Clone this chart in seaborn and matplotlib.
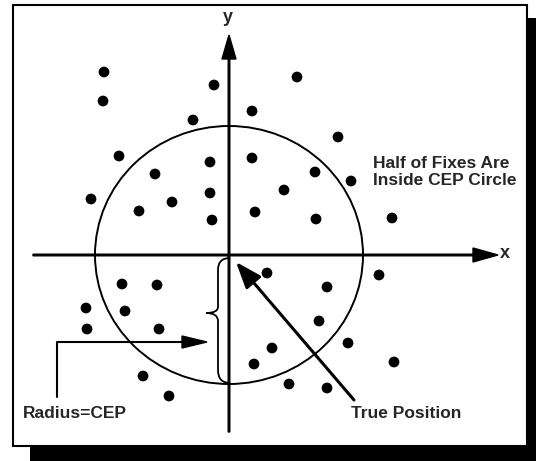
"""
CEP (circular error probable) diagram
Scattered position fixes around the true position
"""

import numpy as np
import pandas as pd
import matplotlib
matplotlib.use('Agg')
import matplotlib.pyplot as plt
import seaborn as sns
from matplotlib.patches import Ellipse, Rectangle, PathPatch
from matplotlib.path import Path

sns.set_style("white")
plt.rcParams['font.family'] = ['Liberation Sans', 'DejaVu Sans']

# ============================================================================
# DATA: fix positions relative to the true position (origin)
# ============================================================================

fix_x = [-125, -126, -15, 23, -36, -110, -19, 23, -74, -138,
         -19, -57, -90, -17, 26, 68, 109, 86, 122, 55,
         87, 163, -107, -72, -143, -104, -142, -70, -86, -60,
         25, 38, 150, 98, 90, 43, 119, 165, 60, 98]
fix_y = [183, 154, 170, 144, 135, 99, 93, 97, 81, 56,
         62, 53, 44, 35, 43, 178, 118, 83, 74, 65,
         36, 37, -29, -30, -53, -56, -74, -74, -121, -141,
         -109, -18, -20, -32, -66, -93, -88, -107, -129, -133]

cep_width = 268
cep_height = 258

df = pd.DataFrame({'x': fix_x, 'y': fix_y})

# ============================================================================
# FIGURE (1 data unit = 1 pixel)
# ============================================================================

fig = plt.figure(figsize=(5.36, 4.61), dpi=100)
ax = fig.add_axes([0, 0, 1, 1])
ax.set_xlim(-229, 307)
ax.set_ylim(-206, 255)
ax.axis('off')

# frame with drop shadow
ax.add_patch(Rectangle((-199, -206), 506, 443, facecolor='black', edgecolor='none', zorder=0))
ax.add_patch(Rectangle((-216, -191), 514, 441, facecolor='white', edgecolor='black',
                       linewidth=1.5, zorder=1))

# axes with arrows
ax.arrow(-196, 0, 465, 0, width=1.6, head_width=14, head_length=25,
         length_includes_head=True, color='black', zorder=2)
ax.arrow(0, -177, 0, 397, width=1.6, head_width=14, head_length=24,
         length_includes_head=True, color='black', zorder=2)
ax.text(276, 1, 'x', fontsize=13, fontweight='bold', ha='center', va='center')
ax.text(-1, 237, 'y', fontsize=13, fontweight='bold', ha='center', va='center')

# CEP circle
ax.add_patch(Ellipse((0, 0), cep_width, cep_height, fill=False, edgecolor='black',
                     linewidth=1.4, zorder=2))

# fixes
sns.scatterplot(data=df, x='x', y='y', color='black', s=60, edgecolor='none',
                ax=ax, zorder=3, legend=False)
ax.set_xlabel('')
ax.set_ylabel('')

# brace marking the radius
verts = [(1, -3), (-11, -3), (-11, -15), (-11, -52), (-11, -58), (-23, -58),
         (-11, -58), (-11, -66), (-11, -115), (-11, -128), (1, -128)]
codes = [Path.MOVETO, Path.CURVE3, Path.CURVE3, Path.LINETO, Path.CURVE3, Path.CURVE3,
         Path.CURVE3, Path.CURVE3, Path.LINETO, Path.CURVE3, Path.CURVE3]
ax.add_patch(PathPatch(Path(verts, codes), fill=False, edgecolor='black', linewidth=1.3, zorder=2))

# Radius=CEP pointer
ax.plot([-172, -172, -40], [-142, -87, -87], color='black', linewidth=1.5, zorder=2)
ax.arrow(-45, -87, 23, 0, width=0.5, head_width=12, head_length=25,
         length_includes_head=True, color='black', zorder=2)
ax.text(-206, -158, 'Radius=CEP', fontsize=12.5, fontweight='bold', ha='left', va='center')

# True Position pointer
ax.annotate('', xy=(7, -7), xytext=(125, -145),
            arrowprops=dict(arrowstyle='-|>,head_length=1.6,head_width=0.6',
                            color='black', linewidth=2.2, shrinkA=0, shrinkB=0), zorder=2)
ax.text(122, -158, 'True Position', fontsize=12.5, fontweight='bold', ha='left', va='center')

ax.text(144, 83, 'Half of Fixes Are\nInside CEP Circle', fontsize=12.5, fontweight='bold',
        ha='left', va='center', linespacing=1.2)

plt.savefig('out.png', dpi=100)
